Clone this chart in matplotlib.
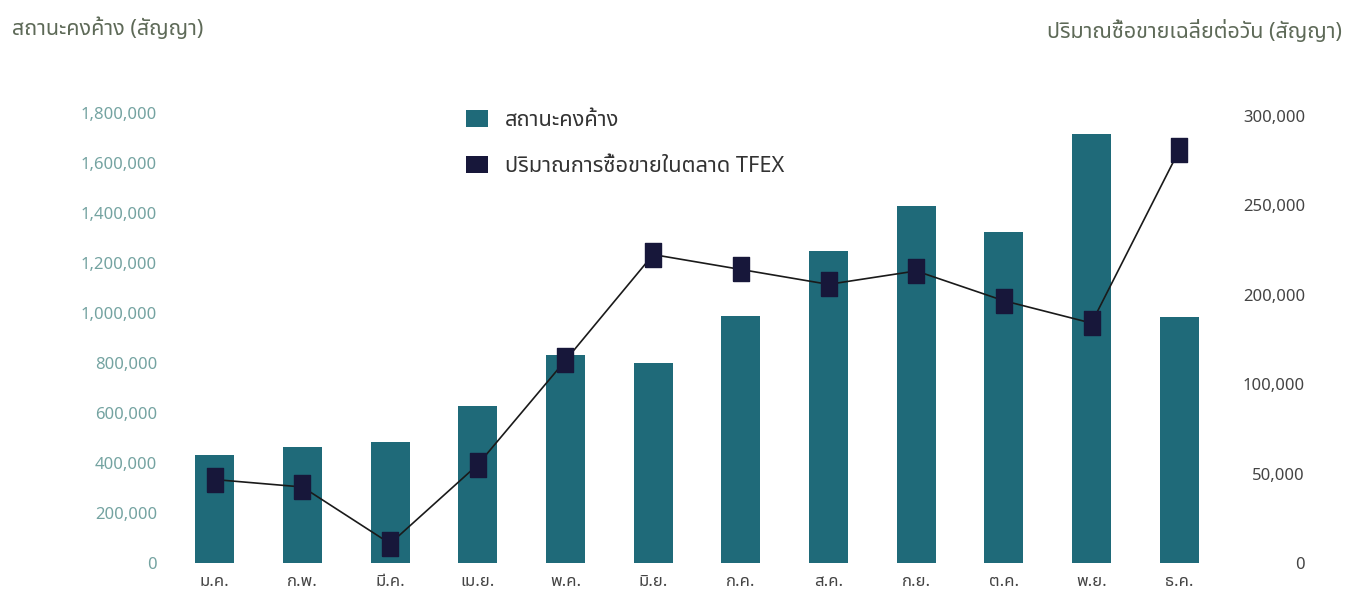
import matplotlib
matplotlib.use("Agg")
import matplotlib.pyplot as plt
import matplotlib.patches as mpatches
import numpy as np

months = ['ม.ค.', 'ก.พ.', 'มี.ค.', 'เม.ย.', 'พ.ค.', 'มิ.ย.',
          'ก.ค.', 'ส.ค.', 'ก.ย.', 'ต.ค.', 'พ.ย.', 'ธ.ค.']
open_interest = [432000, 464000, 484000, 628000, 832000, 800000,
                 988000, 1248000, 1428000, 1324000, 1716000, 984000]
daily_volume = [56000, 51000, 13000, 66000, 136000, 207000,
                197000, 187000, 196000, 176000, 161000, 277000]

left_ticks = [0, 200000, 400000, 600000, 800000, 1000000,
              1200000, 1400000, 1600000, 1800000]
left_labels = ['0', '200,000', '400,000', '600,000', '800,000', '1,000,000',
               '1,200,000', '1,400,000', '1,600,000', '1,800,000']
# ป้ายแกนขวาตามต้นฉบับ (ไม่มี 150,000)
right_labels = ['0', '50,000', '100,000', '200,000', '250,000', '300,000']

fams = ['Noto Sans Thai', 'Noto Sans', 'DejaVu Sans']
plt.rcParams['font.family'] = fams

bar_color = '#1f6a79'
mark_color = '#17173a'

fig = plt.figure(figsize=(13.6, 6.04), dpi=100)
ax = fig.add_axes([0.1257, 0.0679, 0.7736, 0.745])
ax2 = ax.twinx()

x = np.arange(len(months))
ax.bar(x, open_interest, width=0.445, color=bar_color, zorder=2)
ax.set_xlim(-0.5, len(months) - 0.5)
ax.set_ylim(0, 1800000)
ax.set_yticks(left_ticks)
ax.set_yticklabels(left_labels)
ax.set_xticks(x)
ax.set_xticklabels(months)

# สี่เหลี่ยมผืนผ้าแนวตั้งเป็น marker
rect = [(-0.32, -0.5), (0.32, -0.5), (0.32, 0.5), (-0.32, 0.5), (-0.32, -0.5)]
ax2.plot(x, daily_volume, color='#1a1a1a', lw=1.2, zorder=3)
ax2.plot(x, daily_volume, ls='none', marker=rect, ms=17,
         color=mark_color, mec=mark_color, zorder=4)
ax2.set_ylim(0, 302000)
ax2.set_yticks(np.linspace(0, 300000, 6))
ax2.set_yticklabels(right_labels)

for a in (ax, ax2):
    for s in a.spines.values():
        s.set_visible(False)
    a.tick_params(length=0)

ax.tick_params(axis='y', labelsize=12, labelcolor='#74a3a1', pad=10)
ax.tick_params(axis='x', labelsize=12, labelcolor='#444444', pad=8)
ax2.tick_params(axis='y', labelsize=12, labelcolor='#444444', pad=59)
for t in ax2.get_yticklabels():
    t.set_ha('right')

fig.text(0.009, 0.953, 'สถานะคงค้าง (สัญญา)', fontsize=15.5,
         color='#5e6a58', ha='left', va='center')
fig.text(0.987, 0.948, 'ปริมาณซื้อขายเฉลี่ยต่อวัน (สัญญา)', fontsize=15.5,
         color='#5e6a58', ha='right', va='center')

legend_elements = [
    mpatches.Patch(facecolor=bar_color, edgecolor='none', label='สถานะคงค้าง'),
    mpatches.Patch(facecolor=mark_color, edgecolor='none',
                   label='ปริมาณการซื้อขายในตลาด TFEX'),
]
fig.legend(handles=legend_elements, loc='upper left',
           bbox_to_anchor=(0.3285, 0.850), frameon=False, fontsize=15.7,
           handlelength=1.0, handleheight=0.8, handletextpad=0.75,
           labelspacing=1.15, labelcolor='#333333')

plt.savefig('out.png', dpi=100)
